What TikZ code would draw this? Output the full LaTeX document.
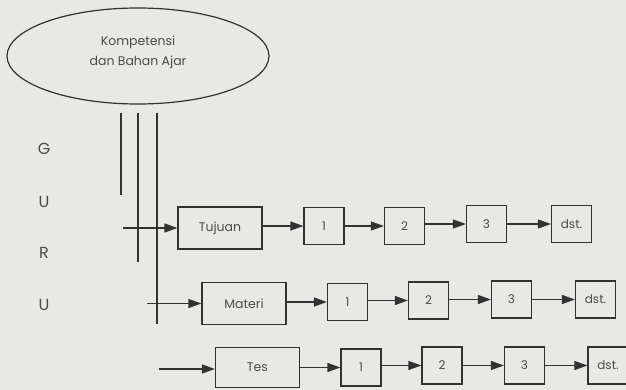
\documentclass[tikz,border=0pt]{standalone}
\usepackage{fontspec}
\setmainfont{Poppins}
\usetikzlibrary{shapes.geometric,arrows.meta}
\definecolor{bg}{RGB}{232,232,229}
\definecolor{ink}{RGB}{50,50,50}
\definecolor{txt}{RGB}{75,75,75}
\tikzset{
  ln/.style={draw=ink, line width=1.2pt},
  arr/.style={ln, -{Triangle[length=13pt,width=9pt]}},
  bigbox/.style={draw=ink, line width=1.2pt, minimum width=84pt, minimum height=42pt, inner sep=0pt, text=txt, font=\fontsize{12.5}{14}\selectfont},
  sbox/.style={draw=ink, line width=1.2pt, minimum width=40pt, minimum height=37pt, inner sep=0pt, text=txt, font=\fontsize{12}{14}\selectfont},
  guru/.style={text=txt, font=\fontsize{16}{18}\selectfont, inner sep=0pt}
}
\begin{document}
\begin{tikzpicture}[x=1pt,y=-1pt]
\fill[bg] (0,0) rectangle (626,390);
\useasboundingbox (0,0) rectangle (626,390);
% ellipse
\node[ellipse, draw=ink, line width=1.2pt, minimum width=262pt, minimum height=96pt, inner sep=0pt] (komp) at (138,56) {};
\node[text=txt, align=center, font=\fontsize{12.5}{20}\selectfont, inner sep=0pt] (kompt) at (138,52) {Kompetensi\\dan Bahan Ajar};
% vertical lines
\coordinate (v1t) at (121,113); \coordinate (v1b) at (121,195);
\coordinate (v2t) at (138,113); \coordinate (v2b) at (138,262);
\coordinate (v3t) at (157,113); \coordinate (v3b) at (157,324);
\draw[ln] (v1t) -- (v1b);
\draw[ln] (v2t) -- (v2b);
\draw[ln] (v3t) -- (v3b);
% GURU
\node[guru] (g1) at (44,149) {G};
\node[guru] (g2) at (44,202) {U};
\node[guru] (g3) at (44,253) {R};
\node[guru] (g4) at (44,305) {U};
% row 1
\node[bigbox] (tujuan) at (220,228) {Tujuan};
\node[sbox] (a1) at (324,226) {1};
\node[sbox] (a2) at (404.5,226) {2};
\node[sbox] (a3) at (486.5,224) {3};
\node[sbox] (a4) at (571.5,224) {dst.};
\coordinate (s1) at (123,228);
\draw[arr] (s1) -- (tujuan.west);
\draw[arr] (tujuan.east |- a1) -- (a1);
\draw[arr] (a1) -- (a2);
\draw[arr] (a2.east |- a3) -- (a3);
\draw[arr] (a3) -- (a4);
% row 2
\node[bigbox] (materi) at (244,303.5) {Materi};
\node[sbox] (b1) at (347.5,302) {1};
\node[sbox] (b2) at (428.5,300.5) {2};
\node[sbox] (b3) at (511.5,299.5) {3};
\node[sbox] (b4) at (595.5,299.5) {dst.};
\coordinate (s2) at (147,303.5);
\draw[arr] (s2) -- (materi.west);
\draw[arr] (materi.east |- b1) -- (b1);
\draw[arr] (b1.east |- b2) -- (b2);
\draw[arr] (b2.east |- b3) -- (b3);
\draw[arr] (b3) -- (b4);
% row 3
\node[bigbox, minimum height=40pt] (tes) at (257.5,367.5) {Tes};
\node[sbox] (c1) at (361,367.5) {1};
\node[sbox] (c2) at (442,365.5) {2};
\node[sbox] (c3) at (524.5,365.5) {3};
\node[sbox] (c4) at (608,365.5) {dst.};
\coordinate (s3) at (159,369);
\draw[arr] (s3) -- (tes.west |- s3);
\draw[arr] (tes.east |- c1) -- (c1);
\draw[arr] (c1.east |- c2) -- (c2);
\draw[arr] (c2) -- (c3);
\draw[arr] (c3) -- (c4);
\end{tikzpicture}
\end{document}
